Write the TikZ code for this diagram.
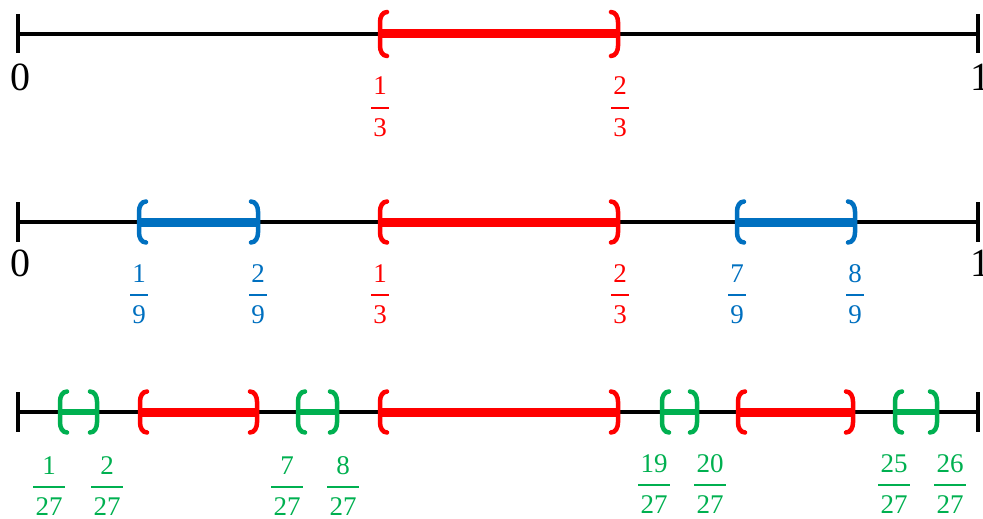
\documentclass[tikz,border=0pt]{standalone}
\usepackage{fontspec}
\setmainfont{Liberation Serif}
\definecolor{cred}{RGB}{255,0,0}
\definecolor{cblue}{RGB}{0,112,192}
\definecolor{cgreen}{RGB}{0,176,80}
\newcommand\lbr[4]{\draw[brk,#4] ({#1+7},{#2-#3}) to[out=180,in=90] (#1,{#2-#3+10}) -- (#1,{#2+#3-10}) to[out=-90,in=180] ({#1+7},{#2+#3});}
\newcommand\rbr[4]{\draw[brk,#4] ({#1-7},{#2-#3}) to[out=0,in=90] (#1,{#2-#3+10}) -- (#1,{#2+#3-10}) to[out=-90,in=0] ({#1-7},{#2+#3});}
% fraction: name, x, y of bar, numerator, denominator, colour
\newcommand\frc[6]{%
  \node[frtxt,text=#6,anchor=base] (#1n) at (#2,{#3-13}) {#4};
  \node[frtxt,text=#6,anchor=base] (#1d) at (#2,{#3+28}) {#5};
  \draw[fracbar,#6] (#1d.west |- 0,#3) -- (#1d.east |- 0,#3);}
\begin{document}
\begin{tikzpicture}[x=1pt,y=-1pt,
  axis/.style={line width=3.5pt,black},
  tickmark/.style={line width=4.5pt,black},
  bar/.style={line width=9pt},
  thinbar/.style={line width=6pt},
  brk/.style={line width=4.5pt,line cap=round},
  fracbar/.style={line width=2pt},
  endlbl/.style={font=\fontsize{40}{40}\selectfont,inner sep=0pt},
  frtxt/.style={font=\fontsize{27}{27}\selectfont,inner ysep=0pt,inner xsep=2pt}]
\useasboundingbox (0,0) rectangle (983,519);
% ---------- line 1
\coordinate (a1) at (18,34); \coordinate (b1) at (978,34);
\draw[axis] (a1) -- (b1);
\draw[bar,cred] (380,34) -- (618,34);
\lbr{380}{34}{22}{cred} \rbr{618}{34}{22}{cred}
\draw[tickmark] (18,14) -- (18,53);
\draw[tickmark] (978,14) -- (978,53);
\node[endlbl] (z1) at (20,77) {0};
\node[endlbl] (o1) at (980,77) {1};
\frc{r1a}{380}{108}{1}{3}{cred}
\frc{r1b}{620}{108}{2}{3}{cred}
% ---------- line 2
\coordinate (a2) at (18,222); \coordinate (b2) at (978,222);
\draw[axis] (a2) -- (b2);
\draw[bar,cblue] (139,222) -- (258,222);
\draw[bar,cred] (380,222) -- (618,222);
\draw[bar,cblue] (737,222) -- (855,222);
\lbr{139}{222}{20.5}{cblue} \rbr{258}{222}{20.5}{cblue}
\lbr{380}{222}{20.5}{cred} \rbr{618}{222}{20.5}{cred}
\lbr{737}{222}{20.5}{cblue} \rbr{855}{222}{20.5}{cblue}
\draw[tickmark] (18,202) -- (18,242);
\draw[tickmark] (978,202) -- (978,242);
\node[endlbl] (z2) at (20,263) {0};
\node[endlbl] (o2) at (980,263) {1};
\frc{b2a}{139}{295}{1}{9}{cblue}
\frc{b2b}{258}{295}{2}{9}{cblue}
\frc{r2a}{380}{295}{1}{3}{cred}
\frc{r2b}{620}{295}{2}{3}{cred}
\frc{b2c}{737}{295}{7}{9}{cblue}
\frc{b2d}{855}{295}{8}{9}{cblue}
% ---------- line 3
\coordinate (a3) at (18,412); \coordinate (b3) at (978,412);
\draw[axis] (a3) -- (b3);
\draw[thinbar,cgreen] (60,412) -- (97,412);
\draw[thinbar,cgreen] (298,412) -- (337,412);
\draw[thinbar,cgreen] (662,412) -- (697,412);
\draw[thinbar,cgreen] (895,412) -- (937,412);
\draw[bar,cred] (140,412) -- (257,412);
\draw[bar,cred] (380,412) -- (618,412);
\draw[bar,cred] (738,412) -- (853,412);
\lbr{60}{412}{20.5}{cgreen} \rbr{97}{412}{20.5}{cgreen}
\lbr{298}{412}{20.5}{cgreen} \rbr{337}{412}{20.5}{cgreen}
\lbr{662}{412}{20.5}{cgreen} \rbr{697}{412}{20.5}{cgreen}
\lbr{895}{412}{20.5}{cgreen} \rbr{937}{412}{20.5}{cgreen}
\lbr{140}{412}{20.5}{cred} \rbr{257}{412}{20.5}{cred}
\lbr{380}{412}{20.5}{cred} \rbr{618}{412}{20.5}{cred}
\lbr{738}{412}{20.5}{cred} \rbr{853}{412}{20.5}{cred}
\draw[tickmark] (18,392) -- (18,432);
\draw[tickmark] (978,392) -- (978,432);
\frc{g1}{49}{487}{1}{27}{cgreen}
\frc{g2}{107}{487}{2}{27}{cgreen}
\frc{g7}{287}{487}{7}{27}{cgreen}
\frc{g8}{343}{487}{8}{27}{cgreen}
\frc{g19}{654}{485}{19}{27}{cgreen}
\frc{g20}{710}{485}{20}{27}{cgreen}
\frc{g25}{894}{485}{25}{27}{cgreen}
\frc{g26}{950}{485}{26}{27}{cgreen}
\end{tikzpicture}
\end{document}
